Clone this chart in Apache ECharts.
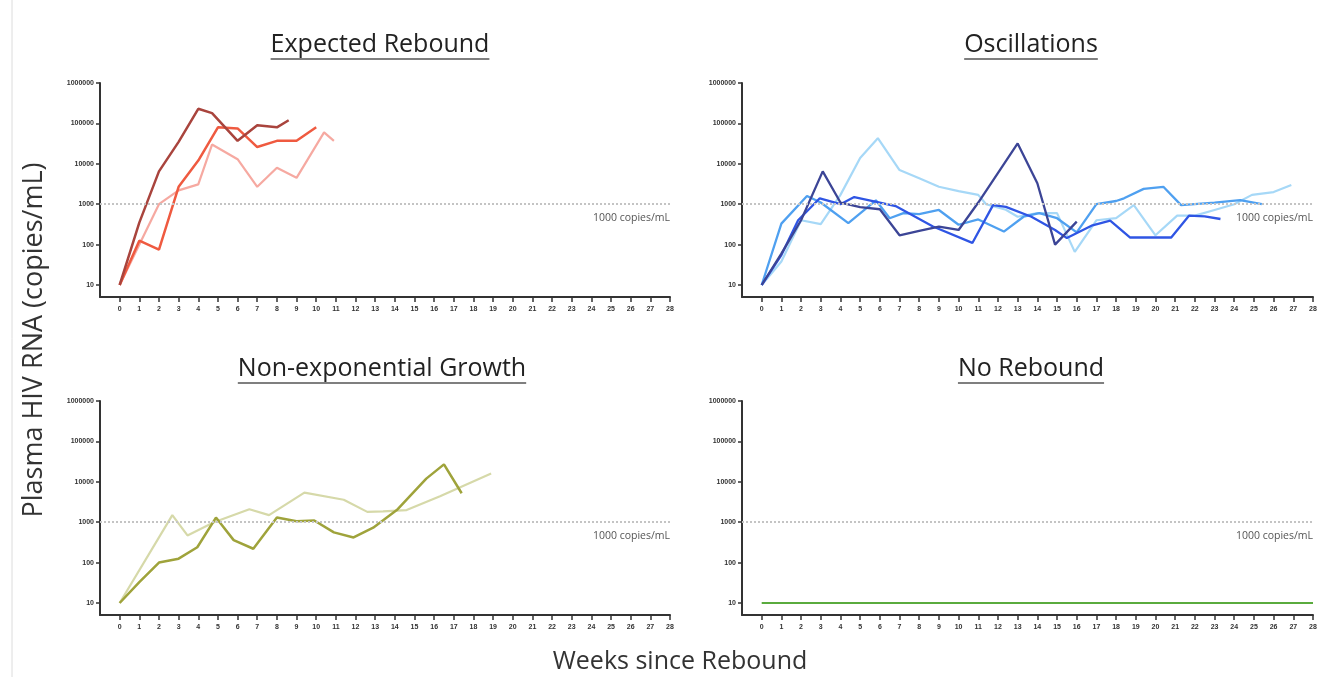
<!DOCTYPE html>
<html>
<head>
<meta charset="utf-8">
<script src="https://cdn.jsdelivr.net/npm/echarts@6/dist/echarts.min.js"></script>
<style>
html,body{margin:0;padding:0;background:#fff;}
#c{width:1342px;height:677px;}
</style>
</head>
<body>
<div id="c"></div>
<script>
// ---- Data (week, copies/mL) ----
const panelTitles = ['Expected Rebound', 'Oscillations', 'Non-exponential Growth', 'No Rebound'];
const xTicks = [0,1,2,3,4,5,6,7,8,9,10,11,12,13,14,15,16,17,18,19,20,21,22,23,24,25,26,27,28];
const yTicks = [10, 100, 1000, 10000, 100000, 1000000];
const thresholdValue = 1000;
const thresholdLabel = '1000 copies/mL';
const yAxisTitle = 'Plasma HIV RNA (copies/mL)';
const xAxisTitle = 'Weeks since Rebound';

const expDark  = [[0,10],[1,350],[2,6500],[3,35000],[4,230000],[4.7,180000],[6,37000],[7,90000],[8,80000],[8.6,120000]];
const expMid   = [[0,10],[1,125],[2,75],[3,2700],[4,12000],[5,80000],[6,75000],[7,26000],[8,37000],[9,37000],[10,80000]];
const expLight = [[0,10],[2,1000],[3,2200],[4,3100],[4.7,30000],[6,13000],[7,2700],[8,8000],[9,4500],[10.4,60000],[10.9,37000]];

const oscNavy  = [[0,10],[1,60],[2,400],[3.1,6500],[4,1100],[5,850],[6,750],[7,170],[8,220],[9,280],[10,230],[11,1100],[13,32000],[14,3300],[14.9,100],[16,370]];
const oscSky   = [[0,10],[1,38],[2,400],[3,320],[4,1700],[5,14000],[5.9,43000],[7,7000],[8,4400],[9,2700],[10,2100],[11,1700],[11.4,1000],[12.4,730],[13,490],[14,600],[15,600],[15.9,66],[17,400],[18,450],[18.9,950],[20,170],[21.1,520],[22,520],[23,720],[24,1000],[24.9,1700],[26,2000],[26.9,3000]];
const oscMed   = [[0,10],[1,330],[2.3,1600],[3,1100],[4.4,340],[5.8,1250],[6.5,450],[7.2,600],[8,570],[9,720],[10,310],[11,420],[12.3,210],[13.3,490],[14.1,600],[15,450],[16,200],[17,1000],[18,1200],[18.4,1400],[19.4,2400],[20.4,2700],[21.3,950],[23,1100],[24.3,1260],[25.4,1000]];
const oscRoyal = [[0,10],[1,55],[1.85,400],[2.95,1400],[4,1000],[4.7,1500],[6,1100],[6.8,900],[8.7,280],[10.7,110],[11.75,950],[12.4,860],[13.7,490],[14.9,230],[15.5,145],[16.8,300],[17.7,390],[18.7,150],[20.8,150],[21.7,520],[22.5,500],[23.3,430]];

const neDark  = [[0,10],[1,33],[2,100],[3,125],[3.95,240],[4.9,1300],[5.8,360],[6.8,220],[8,1300],[9,1060],[9.9,1100],[10.9,560],[11.9,420],[12.9,730],[14.1,2000],[15.6,12000],[16.5,27000],[17.4,5200]];
const neLight = [[0,10],[2.68,1500],[3.45,470],[4.8,1000],[6.6,2100],[7.6,1500],[9.4,5400],[11.4,3600],[12.6,1800],[13.4,1850],[14.6,2000],[16.3,4400],[18.9,16000]];

const noRebound = [[0,10],[28,10]];

// ---- Layout ----
const panels = [
  {left:100, width:570, top:83,  title:{x:380, y:45}},
  {left:742, width:571, top:83,  title:{x:1031, y:45}},
  {left:100, width:570, top:401, title:{x:382, y:369}},
  {left:742, width:571, top:401, title:{x:1031, y:369}}
];
const dataH = 202, frameH = 214;
const tickFont = 'Liberation Sans, Arial, sans-serif';
const textFont = '"Open Sans", "Noto Sans", sans-serif';
const titleFont = '"Open Sans", sans-serif';

const grid = [], xAxis = [], yAxis = [];
panels.forEach((p, i) => {
  grid.push({left:p.left, top:p.top, width:p.width, height:dataH, containLabel:false});
});
panels.forEach((p, i) => {
  grid.push({left:p.left, top:p.top, width:p.width, height:frameH, containLabel:false});
});
panels.forEach((p, i) => {
  xAxis.push({type:'value', gridIndex:i, min:-1, max:28, show:false, axisLine:{onZero:false}});
  yAxis.push({
    type:'log', logBase:10, gridIndex:i, min:10, max:1000000, position:'left',
    axisLine:{show:false, onZero:false},
    axisTick:{show:true, inside:false, length:4, lineStyle:{color:'#333', width:1.5}},
    axisLabel:{show:true, fontSize:7, fontWeight:'bold', color:'#333', margin:6, fontFamily:tickFont,
      formatter: v => String(Math.round(v))},
    splitLine:{show:false}, minorTick:{show:false}
  });
});
panels.forEach((p, i) => {
  xAxis.push({
    type:'value', gridIndex:4+i, min:-1, max:28, position:'bottom',
    axisLine:{show:true, onZero:false, lineStyle:{color:'#333', width:2}},
    axisTick:{show:true, length:5, customValues:xTicks, lineStyle:{color:'#333', width:1.5}},
    axisLabel:{show:true, customValues:xTicks, fontSize:7, fontWeight:'bold', color:'#333', margin:9, fontFamily:tickFont},
    splitLine:{show:false}
  });
  yAxis.push({
    type:'value', gridIndex:4+i, min:0, max:1, position:'left',
    axisLine:{show:true, onZero:false, lineStyle:{color:'#333', width:2}},
    axisTick:{show:false}, axisLabel:{show:false}, splitLine:{show:false}
  });
});

const threshold = {
  silent:true, symbol:['none','none'],
  lineStyle:{color:'#c4c4c4', type:'dotted', width:2},
  label:{show:true, position:'insideEndBottom', formatter:thresholdLabel, fontSize:10.5, color:'#555', fontFamily:textFont, distance:[0,8]},
  data:[{yAxis:thresholdValue}]
};

function line(data, idx, color, width, withMark) {
  const s = {type:'line', xAxisIndex:idx, yAxisIndex:idx, data:data, showSymbol:false, symbol:'none',
    lineStyle:{color:color, width:width}, itemStyle:{color:color}, z:3, silent:true, animation:false};
  if (withMark) s.markLine = threshold;
  return s;
}

const series = [
  line(expLight, 0, '#f6a9a1', 2.2, true),
  line(expMid,   0, '#ef5a40', 2.5, false),
  line(expDark,  0, '#a9443d', 2.5, false),
  line(oscSky,   1, '#a6d8f7', 2.2, true),
  line(oscMed,   1, '#4fa0f0', 2.3, false),
  line(oscRoyal, 1, '#2f55e4', 2.3, false),
  line(oscNavy,  1, '#3c4596', 2.3, false),
  line(neLight,  2, '#d6d9a9', 2.2, true),
  line(neDark,   2, '#9fa33b', 2.5, false),
  line(noRebound,3, '#5aab3e', 2.2, true)
];

// titles measured for underline
const cvs = document.createElement('canvas').getContext('2d');
const titleSize = 25;
const graphic = [
  {type:'line', shape:{x1:12, y1:0, x2:12, y2:677}, style:{stroke:'#dcdcdc', lineWidth:1}, silent:true},
  {type:'text', x:34, y:340, rotation:Math.PI/2, style:{text:yAxisTitle, font:'27px ' + textFont, fill:'#333', textAlign:'center', textVerticalAlign:'middle'}},
  {type:'text', x:680, y:662, style:{text:xAxisTitle, font:'25px ' + textFont, fill:'#333', textAlign:'center', textVerticalAlign:'middle'}}
];
panels.forEach((p, i) => {
  const font = titleSize + 'px ' + titleFont;
  cvs.font = font;
  const w = cvs.measureText(panelTitles[i]).width;
  graphic.push({type:'text', x:p.title.x, y:p.title.y, style:{text:panelTitles[i], font:font, fill:'#222', textAlign:'center', textVerticalAlign:'middle'}});
  graphic.push({type:'line', shape:{x1:p.title.x - w/2, y1:p.title.y + 14, x2:p.title.x + w/2, y2:p.title.y + 14}, style:{stroke:'#555', lineWidth:1.5}, silent:true});
});

const chart = echarts.init(document.getElementById('c'), null, {renderer:'canvas'});
chart.setOption({
  animation:false,
  backgroundColor:'#fff',
  grid:grid, xAxis:xAxis, yAxis:yAxis, series:series, graphic:graphic
});
</script>
</body>
</html>
